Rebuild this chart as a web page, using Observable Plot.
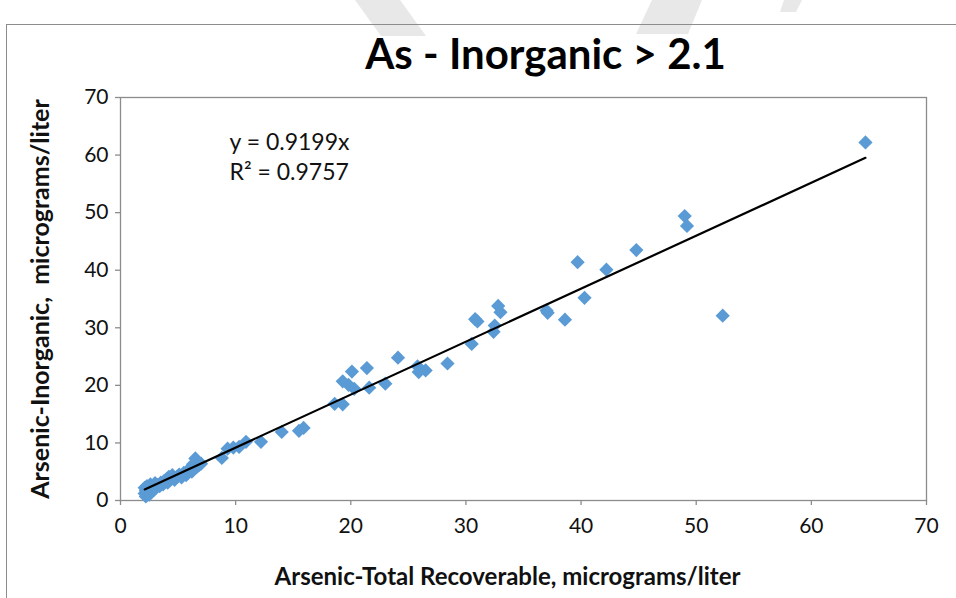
<!DOCTYPE html>
<html><head><meta charset="utf-8">
<script src="https://cdn.jsdelivr.net/npm/d3@7"></script>
<script src="https://cdn.jsdelivr.net/npm/@observablehq/plot@0.6"></script>
<style>
body{margin:0;background:#fff;}
#wrap{position:relative;width:956px;height:598px;overflow:hidden;}
#wm{position:absolute;left:0;top:0;}
#box{position:absolute;left:6px;top:24px;width:1000px;height:700px;border:1.5px solid #8c8c8c;}
#chart{position:absolute;left:0;top:0;}
</style></head><body>
<div id="wrap">
<svg id="wm" width="956" height="60"><g fill="#e8e8e8">
<polygon points="355,0 400,0 426,36 381,36"/>
<polygon points="652,0 702,0 688,34 636,34"/>
<polygon points="784,0 802,0 796,12 780,12"/>
</g></svg>
<div id="box"></div><div id="chart"></div></div>
<script>
const titleText = "As - Inorganic > 2.1";
const xLabel = "Arsenic-Total Recoverable, micrograms/liter";
const yLabel = "Arsenic-Inorganic,  micrograms/liter";
const xTicks = [0, 10, 20, 30, 40, 50, 60, 70];
const yTicks = [0, 10, 20, 30, 40, 50, 60, 70];
const slope = 0.9199;
const rSquared = 0.9757;
const totalRecoverable = [
  2.1, 2.1, 2.2, 2.2, 2.3, 2.4, 2.5, 2.5, 2.6, 2.7, 2.8, 2.9, 3.0, 3.1, 3.2, 3.4, 3.5, 3.7, 3.8, 4.0,
  4.1, 4.2, 4.4, 4.5, 4.7, 4.9, 5.1, 5.3, 5.5, 5.7, 5.8, 6.0, 6.2, 6.3, 6.5, 6.5, 6.6, 6.8, 7.0,
  8.8, 9.3, 9.8, 10.3, 10.9, 12.2, 14.0, 15.5, 15.9, 18.6, 19.3, 19.3, 19.8, 20.1, 20.3, 21.4, 21.6,
  23.0, 24.1, 25.8, 25.9, 26.5, 28.4, 30.5, 30.8, 31.0, 32.4, 32.5, 32.8, 33.0, 37.0, 37.1, 38.6,
  39.7, 40.3, 42.2, 44.8, 49.0, 49.2, 52.3, 64.7
];
const inorganic = [
  1.2, 2.2, 0.7, 1.7, 2.5, 1.4, 1.0, 2.1, 2.8, 1.6, 2.3, 1.9, 3.0, 2.2, 2.7, 2.5, 3.1, 2.8, 3.4, 3.7,
  3.1, 4.1, 3.7, 4.4, 3.6, 4.1, 4.5, 4.0, 4.8, 4.4, 5.1, 5.5, 5.0, 6.3, 7.3, 6.6, 5.8, 6.1, 6.4,
  7.4, 9.0, 9.2, 9.3, 10.2, 10.2, 11.9, 12.1, 12.6, 16.8, 16.7, 20.7, 20.1, 22.4, 19.4, 23.0, 19.6,
  20.3, 24.8, 23.3, 22.3, 22.6, 23.8, 27.2, 31.5, 31.1, 29.3, 30.4, 33.8, 32.7, 33.0, 32.6, 31.4,
  41.4, 35.2, 40.1, 43.5, 49.4, 47.7, 32.1, 62.2
];

const points = totalRecoverable.map((x, i) => ({x, y: inorganic[i]}));
const xMin = d3.min(totalRecoverable), xMax = d3.max(totalRecoverable);
const fit = [xMin, xMax].map(x => ({x, y: slope * x}));
const font = "Lato, 'Open Sans', sans-serif";

const chart = Plot.plot({
  width: 956,
  height: 598,
  marginLeft: 120,
  marginRight: 30,
  marginTop: 97,
  marginBottom: 98,
  style: {fontFamily: font, background: "transparent", color: "#111"},
  x: {domain: [0, 70], ticks: xTicks},
  y: {domain: [0, 70], ticks: yTicks},
  marks: [
    Plot.frame({stroke: "#8c8c8c", strokeWidth: 1.3}),
    Plot.axisX({ticks: xTicks, tickSize: 5, tickPadding: 13, fontSize: 21, stroke: "#8c8c8c", strokeWidth: 1.3, label: null, fill: "#111"}),
    Plot.axisY({ticks: yTicks, tickSize: 5, tickPadding: 7, fontSize: 21, stroke: "#8c8c8c", strokeWidth: 1.3, label: null, fill: "#111"}),
    Plot.dot(points, {x: "x", y: "y", symbol: "diamond2", r: 6.4, fill: "#5B9BD5", stroke: "none"}),
    Plot.line(fit, {x: "x", y: "y", stroke: "#000", strokeWidth: 2.2}),
    Plot.text([titleText], {text: d => d, frameAnchor: "top", dx: 22, dy: -42, fontSize: 42, fontWeight: "bold", fill: "#000", textAnchor: "middle", lineAnchor: "middle"}),
    Plot.text([xLabel], {text: d => d, frameAnchor: "bottom", dx: -16, dy: 77, fontSize: 24, fontWeight: "bold", fill: "#111", textAnchor: "middle", lineAnchor: "middle"}),
    Plot.text([yLabel], {text: d => d, frameAnchor: "left", dx: -80, dy: 0, rotate: -90, fontSize: 25, fontWeight: "bold", fill: "#111", textAnchor: "middle", lineAnchor: "middle"}),
    Plot.text([`y = ${slope}x`], {text: d => d, frameAnchor: "top-left", dx: 109, dy: 45, fontSize: 23, fill: "#111", textAnchor: "start", lineAnchor: "middle"}),
    Plot.text([`R² = ${rSquared}`], {text: d => d, frameAnchor: "top-left", dx: 109, dy: 75, fontSize: 23, fill: "#111", textAnchor: "start", lineAnchor: "middle"})
  ]
});
document.getElementById("chart").appendChild(chart);
</script>
</body></html>
